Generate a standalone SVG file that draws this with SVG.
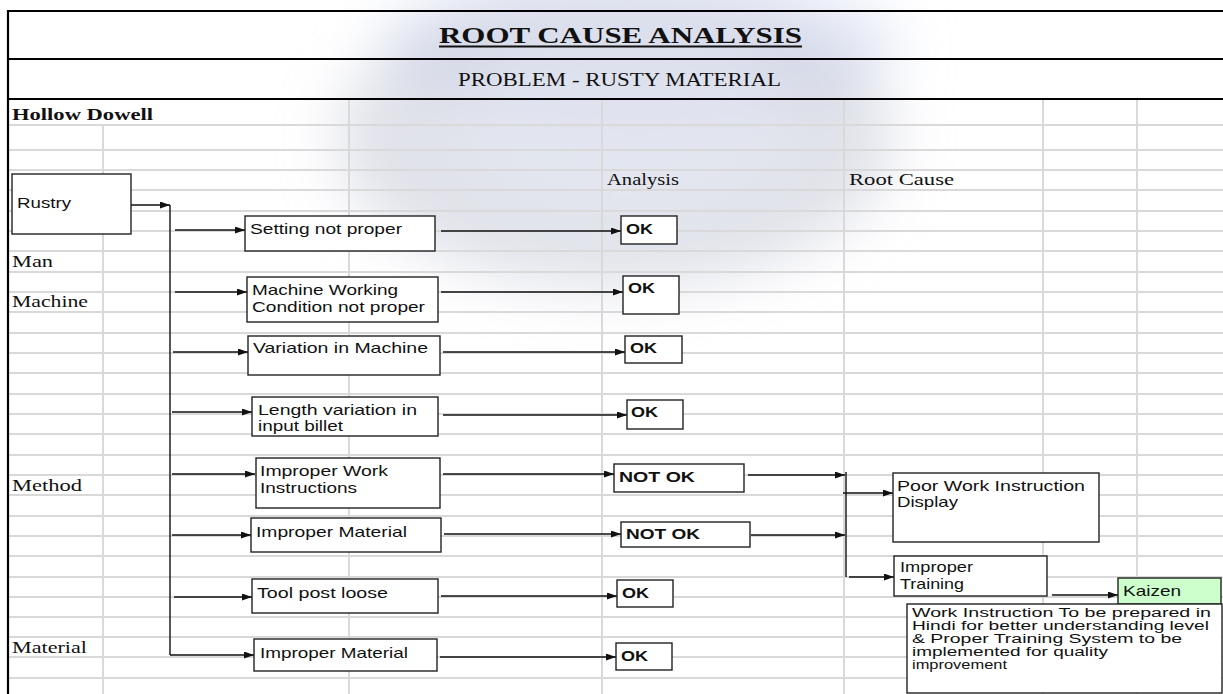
<svg xmlns="http://www.w3.org/2000/svg" width="1223" height="694" viewBox="0 0 1223 694">
<style>
.grid{stroke:#d9d9d9;stroke-width:2;fill:none}
.frame{stroke:#000;stroke-width:2.2;fill:none}
.box{fill:#fff;stroke:#222;stroke-width:1.4}
.conn{stroke:#111;stroke-width:1.4;fill:none}
.arr{marker-end:url(#ah)}
.serif{font-family:"Liberation Serif","Times New Roman",serif;fill:#111}
.sans{font-family:"Liberation Sans",Arial,sans-serif;fill:#111;font-size:15px}
.ok{font-family:"Liberation Sans",Arial,sans-serif;fill:#111;font-size:15px;font-weight:bold}
.small{font-family:"Liberation Sans",Arial,sans-serif;fill:#111;font-size:12px}
</style>
<defs>
<marker id="ah" markerUnits="userSpaceOnUse" markerWidth="10" markerHeight="7" refX="10" refY="3.5" orient="auto">
<path d="M0,0 L10,3.5 L0,7 z" fill="#111"/>
</marker>
<filter id="blur" x="-50%" y="-50%" width="200%" height="200%"><feGaussianBlur stdDeviation="28"/></filter>
</defs>
<rect width="1223" height="694" fill="#fff"/>
<g id="watermark" filter="url(#blur)">
<ellipse cx="640" cy="45" rx="260" ry="75" fill="#d3daf2" opacity="0.6"/>
<ellipse cx="615" cy="140" rx="280" ry="150" fill="#c3c7d5" opacity="0.5"/>
<ellipse cx="625" cy="115" rx="165" ry="100" fill="#e4e8f4" opacity="0.6"/>
</g>
<g id="grid" class="grid">
<path d="M8,125H1223M8,150H1223M8,170H1223M8,190H1223M8,211H1223M8,231H1223M8,251H1223M8,272H1223M8,292H1223M8,312H1223M8,333H1223M8,353H1223M8,373H1223M8,394H1223M8,414H1223M8,434H1223M8,455H1223M8,475H1223M8,495H1223M8,516H1223M8,536H1223M8,556H1223M8,577H1223M8,597H1223M8,617H1223M8,637H1223M8,657H1223M8,678H1223"/>
<path d="M103,125V694M349,100V694M602,100V694M844,100V694M1043,100V694M1137,100V694"/>
</g>
<g id="frame" class="frame">
<path d="M8,11H1223M8,59H1223M8,99H1223M8,10V694"/>
</g>
<g id="header">
<text class="serif" x="439" y="43" font-size="24" font-weight="bold" textLength="363" lengthAdjust="spacingAndGlyphs">ROOT CAUSE ANALYSIS</text>
<line x1="439" y1="46.5" x2="802" y2="46.5" stroke="#111" stroke-width="2"/>
<text class="serif" x="458" y="86" font-size="18" textLength="323" lengthAdjust="spacingAndGlyphs">PROBLEM - RUSTY MATERIAL</text>
<text class="serif" x="12" y="120" font-size="17.5" font-weight="bold" textLength="141" lengthAdjust="spacingAndGlyphs">Hollow Dowell</text>
<text class="serif" x="607" y="185" font-size="17" textLength="72" lengthAdjust="spacingAndGlyphs">Analysis</text>
<text class="serif" x="849" y="185" font-size="17" textLength="105" lengthAdjust="spacingAndGlyphs">Root Cause</text>
<text class="serif" x="12" y="267" font-size="17" textLength="41" lengthAdjust="spacingAndGlyphs">Man</text>
<text class="serif" x="12" y="307" font-size="17" textLength="76" lengthAdjust="spacingAndGlyphs">Machine</text>
<text class="serif" x="12" y="491" font-size="17" textLength="70" lengthAdjust="spacingAndGlyphs">Method</text>
<text class="serif" x="12" y="653" font-size="17" textLength="75" lengthAdjust="spacingAndGlyphs">Material</text>
</g>
<g id="connectors" class="conn">
<path class="arr" d="M131,205H170"/>
<path d="M170,205V655"/>
<path class="arr" d="M175,230H245"/>
<path class="arr" d="M175,292H247"/>
<path class="arr" d="M173,352H248"/>
<path class="arr" d="M172,412H252"/>
<path class="arr" d="M172,474H255"/>
<path class="arr" d="M172,535H251"/>
<path class="arr" d="M174,597H252"/>
<path class="arr" d="M170,655H254"/>
<path class="arr" d="M441,231H621"/>
<path class="arr" d="M441,292H623"/>
<path class="arr" d="M443,352H625"/>
<path class="arr" d="M443,415H627"/>
<path class="arr" d="M443,474H614"/>
<path class="arr" d="M444,534H621"/>
<path class="arr" d="M441,596H617"/>
<path class="arr" d="M440,657H616"/>
<path class="arr" d="M748,475H845"/>
<path class="arr" d="M751,535H845"/>
<path d="M846,472V577"/>
<path class="arr" d="M843,493H893"/>
<path class="arr" d="M849,577H894"/>
<path class="arr" d="M1052,595H1118"/>
</g>
<g id="n-rustry"><rect class="box" x="12" y="174" width="119" height="60"/><text class="sans" x="17" y="208" textLength="54" lengthAdjust="spacingAndGlyphs">Rustry</text></g>
<g id="n-setting"><rect class="box" x="245" y="216" width="190" height="35"/><text class="sans" x="250" y="234" textLength="152" lengthAdjust="spacingAndGlyphs">Setting not proper</text></g>
<g id="n-machine"><rect class="box" x="247" y="277" width="191" height="45"/><text class="sans" x="252" y="295" textLength="146" lengthAdjust="spacingAndGlyphs">Machine Working</text><text class="sans" x="252" y="312" textLength="173" lengthAdjust="spacingAndGlyphs">Condition  not proper</text></g>
<g id="n-variation"><rect class="box" x="248" y="336" width="192" height="39"/><text class="sans" x="253" y="353" textLength="175" lengthAdjust="spacingAndGlyphs">Variation  in Machine</text></g>
<g id="n-length"><rect class="box" x="252" y="397" width="186" height="39"/><text class="sans" x="258" y="415" textLength="159" lengthAdjust="spacingAndGlyphs">Length variation  in</text><text class="sans" x="258" y="431" textLength="85" lengthAdjust="spacingAndGlyphs">input billet</text></g>
<g id="n-work"><rect class="box" x="256" y="458" width="184" height="50"/><text class="sans" x="260" y="476" textLength="128" lengthAdjust="spacingAndGlyphs">Improper  Work</text><text class="sans" x="260" y="493" textLength="97" lengthAdjust="spacingAndGlyphs">Instructions</text></g>
<g id="n-material1"><rect class="box" x="251" y="518" width="190" height="34"/><text class="sans" x="256" y="537" textLength="151" lengthAdjust="spacingAndGlyphs">Improper  Material</text></g>
<g id="n-tool"><rect class="box" x="252" y="579" width="186" height="34"/><text class="sans" x="257" y="598" textLength="131" lengthAdjust="spacingAndGlyphs">Tool  post loose</text></g>
<g id="n-material2"><rect class="box" x="254" y="639" width="183" height="32"/><text class="sans" x="260" y="658" textLength="148" lengthAdjust="spacingAndGlyphs">Improper  Material</text></g>
<g id="a-ok1"><rect class="box" x="621" y="216" width="56" height="28"/><text class="ok" x="626" y="234" textLength="27" lengthAdjust="spacingAndGlyphs">OK</text></g>
<g id="a-ok2"><rect class="box" x="623" y="276" width="56" height="38"/><text class="ok" x="628" y="293" textLength="27" lengthAdjust="spacingAndGlyphs">OK</text></g>
<g id="a-ok3"><rect class="box" x="625" y="336" width="57" height="27"/><text class="ok" x="630" y="353" textLength="27" lengthAdjust="spacingAndGlyphs">OK</text></g>
<g id="a-ok4"><rect class="box" x="627" y="400" width="56" height="29"/><text class="ok" x="631" y="417" textLength="27" lengthAdjust="spacingAndGlyphs">OK</text></g>
<g id="a-notok1"><rect class="box" x="614" y="464" width="130" height="28"/><text class="ok" x="619" y="482" textLength="76" lengthAdjust="spacingAndGlyphs">NOT  OK</text></g>
<g id="a-notok2"><rect class="box" x="621" y="522" width="129" height="25"/><text class="ok" x="626" y="539" textLength="74" lengthAdjust="spacingAndGlyphs">NOT  OK</text></g>
<g id="a-ok7"><rect class="box" x="617" y="580" width="56" height="27"/><text class="ok" x="622" y="598" textLength="27" lengthAdjust="spacingAndGlyphs">OK</text></g>
<g id="a-ok8"><rect class="box" x="616" y="643" width="56" height="27"/><text class="ok" x="621" y="661" textLength="27" lengthAdjust="spacingAndGlyphs">OK</text></g>
<g id="r-poor"><rect class="box" x="893" y="473" width="206" height="69"/><text class="sans" x="897" y="491" textLength="188" lengthAdjust="spacingAndGlyphs">Poor Work Instruction</text><text class="sans" x="897" y="507" textLength="61" lengthAdjust="spacingAndGlyphs">Display</text></g>
<g id="r-training"><rect class="box" x="894" y="556" width="153" height="40"/><text class="sans" x="900" y="572" textLength="73" lengthAdjust="spacingAndGlyphs">Improper</text><text class="sans" x="900" y="589" textLength="64" lengthAdjust="spacingAndGlyphs">Training</text></g>
<g id="kaizen"><rect x="1118" y="578" width="103" height="26" fill="#ccffcc" stroke="#222" stroke-width="1.4"/><text class="sans" x="1123" y="596" textLength="58" lengthAdjust="spacingAndGlyphs">Kaizen</text></g>
<g id="action"><rect class="box" x="907" y="604" width="315" height="89"/>
<text class="small" x="912" y="617" textLength="299" lengthAdjust="spacingAndGlyphs">Work Instruction To be prepared  in</text>
<text class="small" x="912" y="630" textLength="297" lengthAdjust="spacingAndGlyphs">Hindi for better understanding  level</text>
<text class="small" x="912" y="643" textLength="270" lengthAdjust="spacingAndGlyphs">&amp; Proper Training  System to be</text>
<text class="small" x="912" y="656" textLength="196" lengthAdjust="spacingAndGlyphs">implemented  for quality</text>
<text class="small" x="912" y="669" textLength="95" lengthAdjust="spacingAndGlyphs">improvement</text>
</g>
</svg>
